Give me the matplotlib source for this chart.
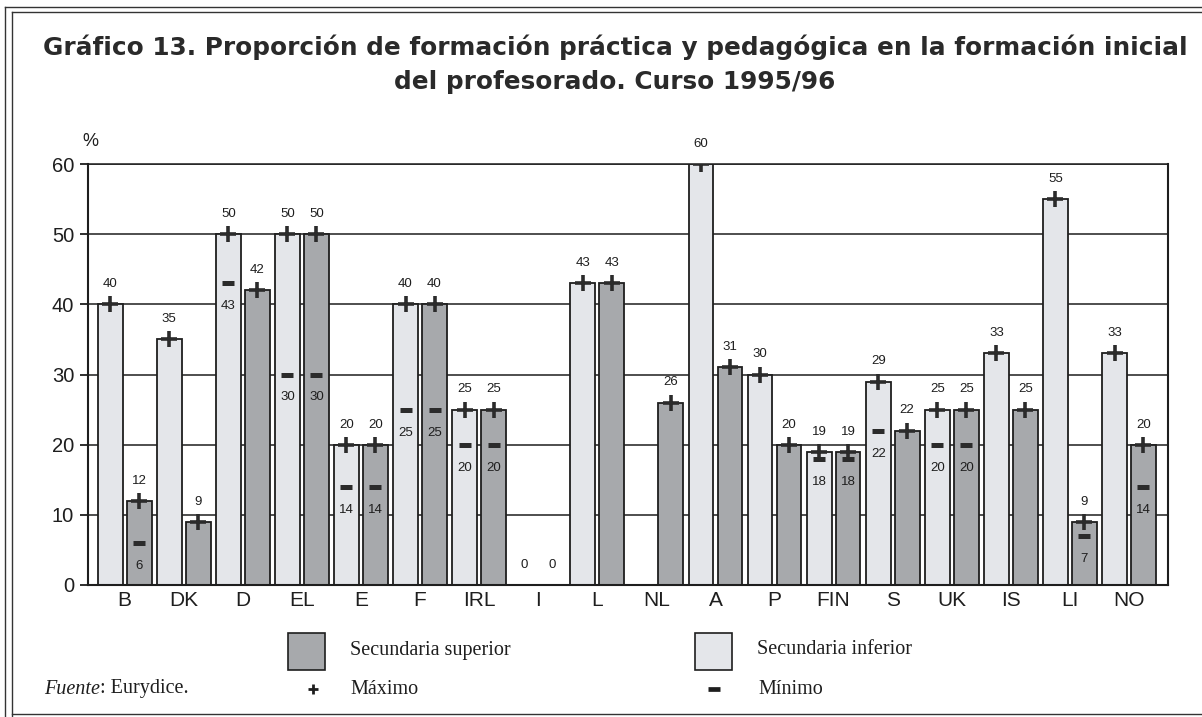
import numpy as np
import matplotlib.pyplot as plt
from matplotlib.patches import Rectangle
from matplotlib.lines import Line2D

# ----------------------------------------------------------------
# Data: practical/pedagogical share of initial teacher training (%)
# ----------------------------------------------------------------
paises = ['B', 'DK', 'D', 'EL', 'E', 'F', 'IRL', 'I', 'L', 'NL',
          'A', 'P', 'FIN', 'S', 'UK', 'IS', 'LI', 'NO']

nan = np.nan
# Secundaria inferior (light bars)
inf_max = [40, 35, 50, 50, 20, 40, 25, 0, 43, nan, 60, 30, 19, 29, 25, 33, 55, 33]
inf_min = [nan, nan, 43, 30, 14, 25, 20, nan, nan, nan, nan, nan, 18, 22, 20, nan, nan, nan]
# Secundaria superior (dark bars)
sup_max = [12, 9, 42, 50, 20, 40, 25, 0, 43, 26, 31, 20, 19, 22, 25, 25, 9, 20]
sup_min = [6, nan, nan, 30, 14, 25, 20, nan, nan, nan, nan, nan, 18, nan, 20, nan, 7, 14]

yticks = [0, 10, 20, 30, 40, 50, 60]

# ----------------------------------------------------------------
# Styles
# ----------------------------------------------------------------
W, H = 1202, 717
col_inf = '#e4e6ea'
col_sup = '#a7a9ac'
ink = '#1e1e1e'
sans = ['Liberation Sans', 'DejaVu Sans']
serif = ['Liberation Serif', 'DejaVu Serif']

fig = plt.figure(figsize=(W / 100, H / 100), dpi=100)
fig.patch.set_facecolor('white')

ax = fig.add_axes([88 / W, 1 - 585 / H, (1168 - 88) / W, (585 - 164) / H])
ax.set_axisbelow(True)

x = np.arange(len(paises))
dx = 0.245
bw = 0.42


def draw_series(xpos, vmax, vmin, color):
    vmax = np.asarray(vmax, dtype=float)
    vmin = np.asarray(vmin, dtype=float)
    ok = ~np.isnan(vmax) & (vmax > 0)
    ax.bar(xpos[ok], vmax[ok], width=bw, color=color,
           edgecolor=ink, linewidth=1.3, zorder=2)
    for xi, hi, lo in zip(xpos, vmax, vmin):
        if np.isnan(hi):
            continue
        if hi > 0:
            ax.plot(xi, hi, marker='+', ms=11, mew=2.6, color='#2b2b2b', zorder=4)
        ax.annotate(f'{hi:.0f}', (xi, hi), xytext=(0, 14.5), textcoords='offset points',
                    ha='center', va='center', fontsize=9.5, family=sans, color=ink, zorder=5)
        if not np.isnan(lo):
            ax.plot(xi, lo, marker='_', ms=9, mew=3.6, color='#2b2b2b', zorder=4)
            ax.annotate(f'{lo:.0f}', (xi, lo), xytext=(0, -16.5), textcoords='offset points',
                        ha='center', va='center', fontsize=9.5, family=sans, color=ink, zorder=5)


draw_series(x - dx, inf_max, inf_min, col_inf)
draw_series(x + dx, sup_max, sup_min, col_sup)

ax.set_xlim(-0.62, 17.66)
ax.set_ylim(0, 60)
ax.set_yticks(yticks)
ax.set_yticklabels([str(v) for v in yticks], family=sans, fontsize=14.5, color=ink)
ax.set_xticks(x)
ax.set_xticklabels(paises, family=sans, fontsize=15, color=ink)
ax.tick_params(axis='x', length=0, pad=4)
ax.tick_params(axis='y', length=6, width=1.3, direction='out', pad=4, color=ink)
ax.yaxis.grid(True, color=ink, linewidth=1.1)
for s in ax.spines.values():
    s.set_color(ink)
    s.set_linewidth(1.5)
ax.spines['top'].set_linewidth(1.1)

fig.text(90 / W, 1 - 141 / H, '%', family=sans, fontsize=13, color=ink,
         ha='center', va='center')

# Title
title_font = ['DejaVu Sans']
fig.text(615 / W, 1 - 47 / H,
         'Gráfico 13. Proporción de formación práctica y pedagógica en la formación inicial',
         family=title_font, fontweight='bold', fontsize=17.8, color='#2a2a2a',
         ha='center', va='center')
fig.text(615 / W, 1 - 82 / H, 'del profesorado. Curso 1995/96',
         family=title_font, fontweight='bold', fontsize=17.8, color='#2a2a2a',
         ha='center', va='center')


# Legend (drawn by hand in figure coordinates)
def fx(px):
    return px / W


def fy(py):
    return 1 - py / H


for left, color, label in [(288, col_sup, 'Secundaria superior'),
                           (695, col_inf, 'Secundaria inferior')]:
    fig.add_artist(Rectangle((fx(left), fy(670)), 37 / W, 37 / H, transform=fig.transFigure,
                             facecolor=color, edgecolor=ink, linewidth=1.2))
    fig.text(fx(left + 62), fy(650), label, family=serif, fontsize=14.5, color=ink,
             ha='left', va='center')

fig.add_artist(Line2D([fx(313)], [fy(689)], marker='+', ms=7, mew=2.0, color=ink,
                      transform=fig.transFigure))
fig.text(fx(350), fy(689), 'Máximo', family=serif, fontsize=14.5, color=ink,
         ha='left', va='center')
fig.add_artist(Line2D([fx(714)], [fy(689)], marker='_', ms=8, mew=3.4, color=ink,
                      transform=fig.transFigure))
fig.text(fx(758), fy(689), 'Mínimo', family=serif, fontsize=14.5, color=ink,
         ha='left', va='center')

t = fig.text(fx(44), fy(689), 'Fuente', family=serif, fontsize=14.5, style='italic',
             color=ink, ha='left', va='center')
fig.canvas.draw()
bb = t.get_window_extent()
fig.text(bb.x1 / W, fy(689), ': Eurydice.', family=serif, fontsize=14.5,
         color=ink, ha='left', va='center')

# Page frame: double rule on the top and left, single rule at the bottom
frame = [([5, 5], [7, H]), ([12, 12], [12, H]),
         ([5, W], [7, 7]), ([12, W], [12, 12]),
         ([12, W], [714, 714])]
for xs, ys in frame:
    fig.add_artist(Line2D([fx(v) for v in xs], [fy(v) for v in ys],
                          color='#333333', linewidth=1.0, transform=fig.transFigure))

fig.savefig('out.png', dpi=100)
